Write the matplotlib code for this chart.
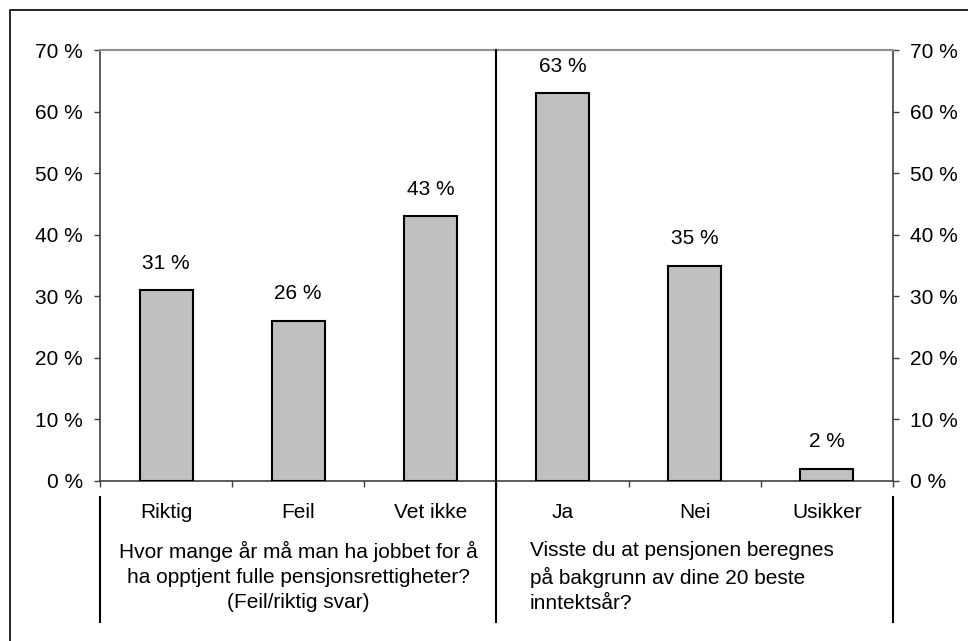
import matplotlib.pyplot as plt
from matplotlib.lines import Line2D
from matplotlib.patches import Rectangle

plt.rcParams['font.family'] = ['Liberation Sans', 'DejaVu Sans']

categories = ["Riktig", "Feil", "Vet ikke", "Ja", "Nei", "Usikker"]
values = [31, 26, 43, 63, 35, 2]
y_ticks = [0, 10, 20, 30, 40, 50, 60, 70]
group_left = "Hvor mange år må man ha jobbet for å\nha opptjent fulle pensjonsrettigheter?\n(Feil/riktig svar)"
group_right = "Visste du at pensjonen beregnes\npå bakgrunn av dine 20 beste\ninntektsår?"

W, H = 968, 641
fig = plt.figure(figsize=(W / 100, H / 100), dpi=100)

# outer frame
fig.patches.append(Rectangle((10 / W, -0.1), 1.2, (H - 10) / H + 0.1,
                             transform=fig.transFigure, fill=False,
                             edgecolor="black", lw=1.2))

ax_l, ax_r, ax_t, ax_b = 100, 893, 50, 481
ax = fig.add_axes([ax_l / W, (H - ax_b) / H, (ax_r - ax_l) / W, (ax_b - ax_t) / H])

x = list(range(len(categories)))
ax.bar(x, values, width=0.4, color="#c0c0c0", edgecolor="black", lw=1.5, zorder=3)
for xi, v in zip(x, values):
    ax.annotate(f"{v} %", (xi, v), xytext=(0, 27), textcoords="offset pixels",
                ha="center", va="center", fontsize=15)

ax.set_xlim(-0.5, 5.5)
ax.set_ylim(0, 70)
ax.set_yticks(y_ticks)
ax.set_yticklabels([f"{t} %" for t in y_ticks])
ax.tick_params(axis="y", which="both", direction="out", length=4.5, width=1,
               pad=8, labelsize=15, left=True, right=True,
               labelleft=True, labelright=True, color="#404040")
ax.set_xticks([-0.5, 0.5, 1.5, 2.5, 3.5, 4.5, 5.5])
ax.set_xticklabels([])
ax.tick_params(axis="x", direction="out", length=4.5, width=1, color="#404040")

for s in ["left", "right", "bottom"]:
    ax.spines[s].set_color("#404040")
    ax.spines[s].set_linewidth(1.2)
ax.spines["top"].set_color("#909090")
ax.spines["top"].set_linewidth(1.5)

# category labels
trans = ax.get_xaxis_transform()
for xi, c in zip(x, categories):
    ax.text(xi, -32 / 431, c, transform=trans, ha="center", va="center", fontsize=15)

# separators between the two questions
sep_top = -16 / 431
sep_bot = -141 / 431
for xs, top in [(-0.5, sep_top), (2.5, 1.0), (5.5, sep_top)]:
    ax.add_line(Line2D([xs, xs], [top, sep_bot], transform=trans, color="black",
                       lw=1.5, clip_on=False, zorder=4))

ax.text(1.0, -60 / 431, group_left, transform=trans, ha="center", va="top",
        fontsize=15, linespacing=1.4)
ax.text(2.75, -60 / 431, group_right, transform=trans, ha="left", va="top",
        fontsize=15, linespacing=1.4)

fig.savefig("out.png", dpi=100)
